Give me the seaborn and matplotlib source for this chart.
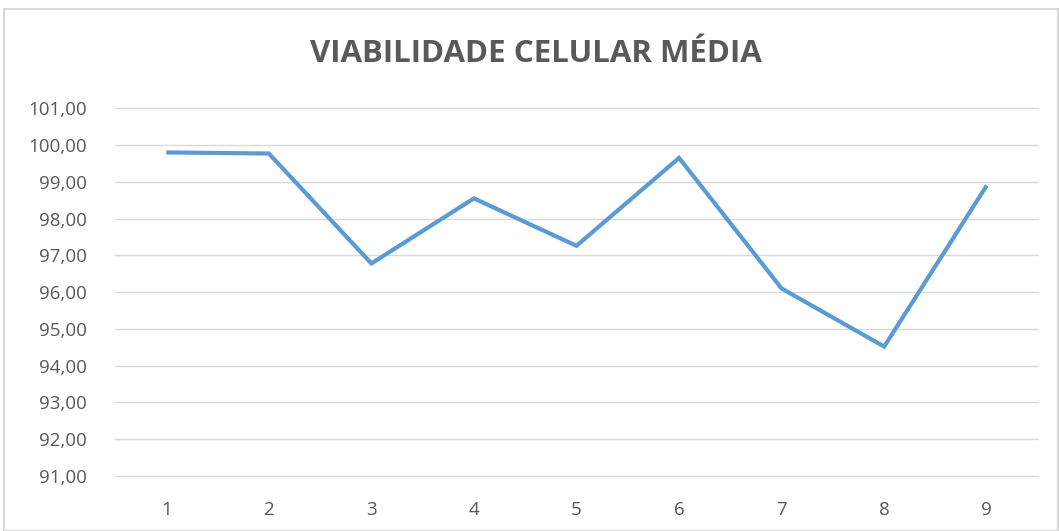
import matplotlib
matplotlib.use("Agg")
import matplotlib.pyplot as plt
import seaborn as sns
import pandas as pd
from matplotlib.patches import Rectangle

categories = [1, 2, 3, 4, 5, 6, 7, 8, 9]
values = [99.80, 99.77, 96.78, 98.55, 97.26, 99.65, 96.10, 94.52, 98.90]
y_ticks = [91, 92, 93, 94, 95, 96, 97, 98, 99, 100, 101]
title = "VIABILIDADE CELULAR MÉDIA"

sns.set_theme(style="white")
plt.rcParams['font.family'] = ['Open Sans', 'DejaVu Sans']

df = pd.DataFrame({"amostra": categories, "viabilidade": values})

W, H = 1059, 531
fig = plt.figure(figsize=(W / 100, H / 100), dpi=100)
ax = fig.add_axes([115 / W, 1 - 476 / H, (1038 - 115) / W, (476 - 108.3) / H])

sns.lineplot(data=df, x="amostra", y="viabilidade", ax=ax, color="#5B9BD5",
             linewidth=3.0, solid_joinstyle="miter", solid_capstyle="butt")

ax.set_xlim(categories[0] - 0.5, categories[-1] + 0.5)
ax.set_ylim(y_ticks[0], y_ticks[-1])
ax.set_yticks(y_ticks)
ax.set_yticklabels([f"{v:.2f}".replace(".", ",") for v in y_ticks])
ax.set_xticks(categories)
ax.set_xticklabels([str(c) for c in categories])
ax.set_xlabel("")
ax.set_ylabel("")
ax.grid(axis="y", color="#D9D9D9", linewidth=1.0)
for gl in ax.get_ygridlines():
    gl.set_clip_on(False)
ax.set_axisbelow(True)
for s in ax.spines.values():
    s.set_visible(False)
ax.tick_params(axis="both", length=0, colors="#595959", labelsize=13.5)
ax.tick_params(axis="y", pad=20)
ax.tick_params(axis="x", pad=18)

fig.text(536 / W, 1 - 54 / H, title, ha="center", va="center", fontsize=22.5,
         fontweight="bold", color="#595959")

fig.patches.append(Rectangle((4 / W, 0), (1058 - 4) / W, 1 - 9 / H, transform=fig.transFigure,
                             fill=False, edgecolor="#D9D9D9", linewidth=1.5))

fig.savefig("out.png", dpi=100)
